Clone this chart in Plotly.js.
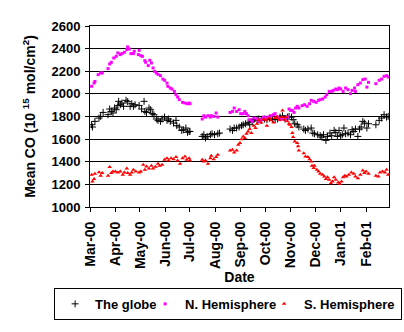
<!DOCTYPE html>
<html>
<head>
<meta charset="utf-8">
<script src="https://cdn.plot.ly/plotly-3.0.1.min.js"></script>
<style>html,body{margin:0;padding:0;background:#fff;}#chart{width:404px;height:332px;}</style>
</head>
<body>
<div id="chart"></div>
<script>
// Days counted from 2000-03-01
var monthTicks = ['2000-03-01','2000-04-01','2000-05-01','2000-06-01','2000-07-01','2000-08-01','2000-09-01','2000-10-01','2000-11-01','2000-12-01','2001-01-01','2001-02-01'];
var monthLabels = ['Mar-00','Apr-00','May-00','Jun-00','Jul-00','Aug-00','Sep-00','Oct-00','Nov-00','Dec-00','Jan-01','Feb-01'];

var seriesNames = ['The globe','N. Hemisphere','S. Hemisphere'];

var globeDays = [2,3,6,11,13,16,22,24,26,28,30,32,34,35,37,39,41,44,46,49,51,53,55,60,63,66,67,69,72,74,76,78,81,83,86,88,91,94,96,98,102,105,106,109,112,114,117,119,121,122,
137,139,141,143,147,149,152,156,158,
171,174,176,179,182,185,187,190,193,195,198,200,204,206,209,213,216,219,223,226,229,232,235,238,241,243,
246,248,250,253,255,261,263,266,270,272,274,278,281,283,285,288,290,293,295,298,300,302,304,306,308,310,312,315,318,320,322,324,327,329,331,333,335,338,340,
349,353,356,359,362,364];
var globeCO = [1727,1707,1757,1786,1801,1836,1816,1866,1845,1831,1875,1860,1896,1934,1904,1919,1890,1943,1931,1890,1913,1890,1904,1898,1866,1934,1845,1836,1875,1860,1825,1816,1778,1766,1757,1778,1795,1766,1778,1757,1742,1766,1719,1707,1677,1683,1698,1660,1668,1668,
1624,1639,1610,1624,1639,1648,1639,1648,1654,
1689,1677,1698,1698,1707,1719,1727,1736,1748,1727,1757,1772,1766,1778,1766,1778,1772,1786,1778,1772,1778,1795,1807,1778,1795,1801,
1795,1772,1736,1727,1707,1689,1677,1689,1698,1654,1648,1639,1630,1618,1639,1589,1624,1654,1630,1677,1660,1624,1677,1630,1639,1698,1648,1654,1639,1683,1668,1689,1624,1689,1707,1757,1742,1698,1736,
1727,1766,1786,1816,1795,1801];

var nhDays = [2,5,6,10,13,15,22,24,26,29,32,34,37,39,42,45,46,48,50,53,54,59,60,62,64,67,68,71,73,75,77,79,81,83,86,89,91,94,95,98,100,103,105,107,109,113,116,119,121,122,
137,139,141,144,147,148,151,154,156,
171,174,176,179,182,184,187,189,191,193,195,198,200,204,206,209,212,215,217,221,224,226,229,232,235,238,241,243,245,
247,249,251,253,255,259,262,265,268,270,273,276,279,281,284,287,289,292,295,297,300,302,304,306,309,312,315,318,320,323,324,327,330,333,336,338,340,
349,353,356,359,362,364];
var nhCO = [2067,2096,2110,2170,2185,2185,2223,2264,2279,2317,2332,2362,2347,2356,2368,2391,2415,2397,2356,2356,2377,2347,2385,2338,2332,2294,2279,2250,2297,2273,2229,2199,2185,2173,2161,2131,2120,2096,2067,2052,2043,2022,1993,1972,1949,1925,1919,1913,1919,1913,
1778,1807,1795,1807,1795,1807,1801,1831,1795,
1836,1845,1875,1845,1860,1825,1825,1845,1825,1807,1772,1757,1786,1778,1757,1772,1795,1778,1795,1807,1816,1825,1795,1772,1786,1772,1795,1866,1854,
1854,1836,1875,1890,1875,1896,1904,1890,1913,1943,1934,1925,1943,1949,1955,1972,1993,2022,2022,2031,2043,2037,2052,2043,2022,2052,2037,2002,2031,2052,2022,2081,2096,2126,2131,2060,2102,
2090,2120,2131,2155,2161,2149];

var shDays = [2,3,5,6,11,13,15,22,24,26,28,31,34,37,40,42,45,46,49,51,53,56,60,62,65,67,69,72,75,77,80,83,85,88,91,94,96,99,102,105,107,110,113,116,118,121,122,
137,139,141,144,147,148,151,154,156,
171,174,176,179,181,183,185,187,189,191,193,195,197,200,202,204,206,209,212,215,216,219,221,224,226,228,231,234,235,237,239,241,243,
244,246,247,248,250,253,254,255,261,263,266,268,270,271,273,274,277,279,281,284,286,288,290,292,294,296,298,300,303,305,307,309,311,313,316,319,322,324,327,330,333,335,337,340,
349,352,354,357,360,362,364];
var shCO = [1285,1226,1247,1294,1308,1276,1300,1276,1353,1300,1314,1314,1305,1314,1285,1305,1341,1300,1285,1305,1329,1314,1305,1314,1373,1329,1359,1341,1364,1341,1356,1382,1364,1373,1417,1432,1411,1432,1423,1441,1411,1382,1432,1447,1417,1432,1411,
1417,1403,1411,1382,1432,1452,1423,1441,1461,
1500,1506,1482,1500,1550,1565,1600,1624,1610,1648,1668,1689,1654,1719,1698,1736,1766,1748,1778,1766,1719,1786,1766,1748,1786,1795,1772,1795,1854,1772,1795,1757,1736,
1727,1707,1654,1618,1580,1565,1536,1500,1476,1447,1441,1423,1403,1364,1344,1364,1329,1314,1294,1285,1270,1247,1264,1241,1211,1226,1264,1241,1217,1205,1226,1264,1276,1270,1285,1305,1294,1270,1255,1285,1323,1300,1314,1294,
1276,1270,1305,1314,1305,1329,1285];

function toDates(days) {
  return days.map(function (d) {
    var t = new Date(Date.UTC(2000, 2, 1 + d));
    return t.toISOString().slice(0, 10);
  });
}

var FONT = 'Liberation Sans, Arial, sans-serif';
function f(size) { return {family: FONT, size: size, color: '#000000', weight: 'bold'}; }

var traces = [
  {x: toDates(globeDays), y: globeCO, name: seriesNames[0], type: 'scatter', mode: 'markers', legendwidth: 45,
   marker: {symbol: 'cross-thin-open', size: 5, color: '#000000', line: {color: '#000000', width: 1}}},
  {x: toDates(nhDays), y: nhCO, name: seriesNames[1], type: 'scatter', mode: 'markers', legendwidth: 74,
   marker: {symbol: 'square', size: 3, color: '#FF00FF', line: {width: 0}}},
  {x: toDates(shDays), y: shCO, name: seriesNames[2], type: 'scatter', mode: 'markers', legendwidth: 92,
   marker: {symbol: 'triangle-up', size: 4, color: '#FF0000', line: {width: 0}}}
];

var layout = {
  width: 404, height: 332,
  margin: {l: 90, r: 15, t: 26, b: 125, pad: 0},
  paper_bgcolor: '#ffffff', plot_bgcolor: '#ffffff',
  font: f(13),
  showlegend: true,
  legend: {
    orientation: 'h', x: -0.12, xanchor: 'left', y: -0.447, yanchor: 'top',
    bordercolor: '#000000', borderwidth: 1, bgcolor: '#ffffff',
    font: f(13), itemwidth: 30, entrywidth: 74, entrywidthmode: 'pixels'
  },
  xaxis: {
    type: 'date',
    range: ['2000-03-01', '2001-03-01'],
    tickmode: 'array', tickvals: monthTicks, ticktext: monthLabels,
    tickangle: -90,
    ticks: 'outside', ticklen: 4, tickwidth: 1, tickcolor: '#000000',
    ticklabelstandoff: 4,
    showline: true, linecolor: '#000000', linewidth: 1, mirror: true,
    showgrid: false, zeroline: false,
    tickfont: f(14),
    title: {text: 'Date', font: f(14), standoff: 4}
  },
  yaxis: {
    range: [1000, 2600], dtick: 200, tick0: 1000,
    ticks: 'outside', ticklen: 4, tickwidth: 1, tickcolor: '#000000',
    ticklabelstandoff: 2,
    showline: true, linecolor: '#000000', linewidth: 1, mirror: true,
    showgrid: true, gridcolor: '#000000', gridwidth: 1, zeroline: false,
    tickfont: f(13),
    title: {text: 'Mean CO (10 <sup>15</sup> mol/cm<sup>2</sup>)', font: f(14), standoff: 12}
  }
};

Plotly.newPlot('chart', traces, layout, {staticPlot: true, displayModeBar: false});
</script>
</body>
</html>
